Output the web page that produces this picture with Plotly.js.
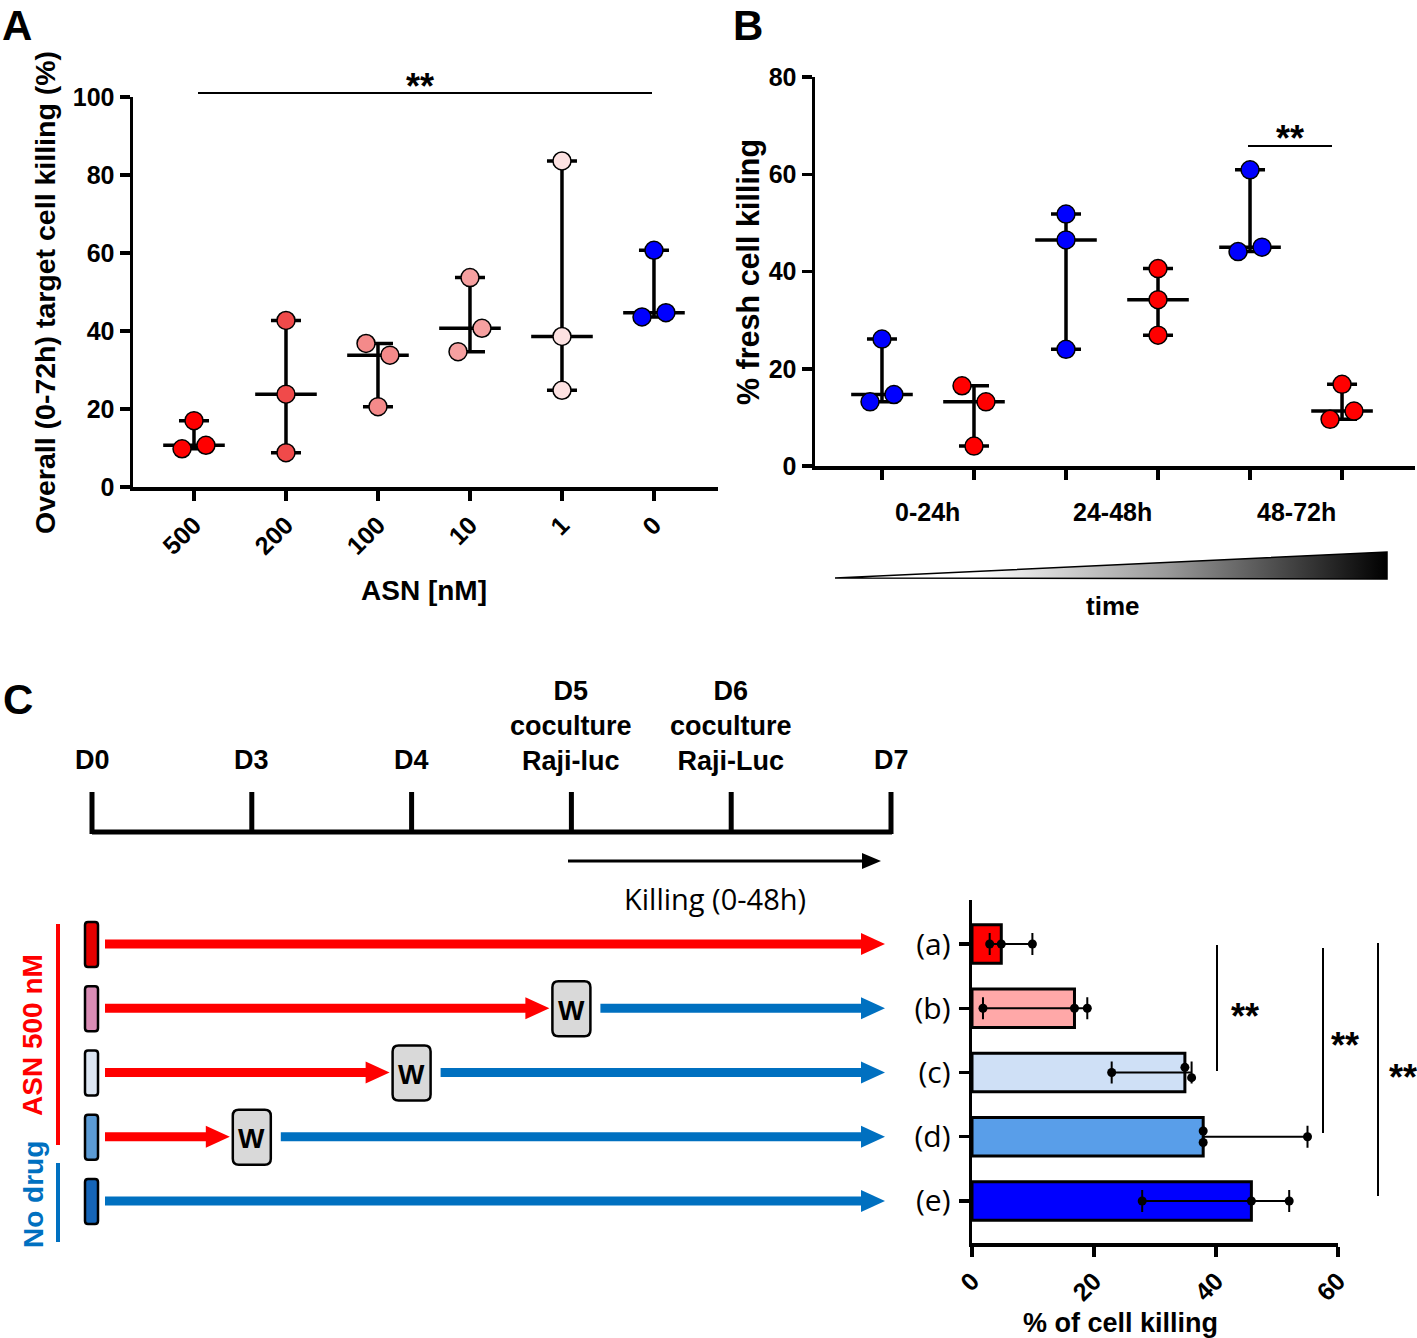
<!DOCTYPE html>
<html>
<head>
<meta charset="utf-8">
<script src="https://cdn.plot.ly/plotly-3.0.1.min.js"></script>
<style>html,body{margin:0;padding:0;background:#fff;}</style>
</head>
<body>
<div id="chart" style="width:1417px;height:1338px;"></div>
<script>
// ---------------- DATA ----------------
// Panel A: overall (0-72h) target cell killing (%) vs ASN concentration
const asnLabels = ['500', '200', '100', '10', '1', '0'];
const killA500 = [17.0, 9.8, 10.7];
const killA200 = [42.7, 23.8, 8.8];
const killA100 = [36.8, 33.8, 20.6];
const killA10  = [53.7, 40.7, 34.7];
const killA1   = [83.6, 38.6, 24.8];
const killA0   = [60.7, 43.6, 44.7];

// Panel B: % fresh cell killing per time window
const timeWindows = ['0-24h', '24-48h', '48-72h'];
const freshNoDrug = [[26.1, 13.2, 14.7], [51.8, 46.5, 24.0], [60.9, 44.1, 45.0]];
const freshASN    = [[16.5, 13.2, 4.1], [40.6, 34.2, 26.9], [16.8, 9.6, 11.3]];

// Panel C: schedule + % of cell killing
const dayLabels = ['D0', 'D3', 'D4', 'D5<br>coculture<br>Raji-luc', 'D6<br>coculture<br>Raji-Luc', 'D7'];
const conditions = ['(a)', '(b)', '(c)', '(d)', '(e)'];
const washDayIndex = [null, 3, 2, 1, null];   // index into dayLabels where wash (W) happens
const cellKilling = [[2.9, 4.8, 9.9], [1.8, 16.8, 18.9], [22.9, 34.9, 36.0], [37.9, 37.9, 55.0], [27.9, 45.8, 52.0]];

// ---------------- STYLE ----------------
const W = 1417, H = 1338;
const FB = 'Liberation Sans, Arial, Helvetica, sans-serif';
const FC = 'Open Sans, Noto Sans, sans-serif';
const asnColors = ['#ff0000', '#f04a4a', '#f48a8a', '#f6a0a0', '#fde2e2', '#0000ff'];
const jitterA = [[0, -0.13, 0.13], [0, 0, 0], [-0.13, 0.13, 0], [0, 0.13, -0.13], [0, 0, 0], [0, -0.13, 0.13]];
const jitterNoDrug = [[0, -0.13, 0.13], [0, 0, 0], [0, -0.13, 0.13]];
const jitterASN = [[-0.13, 0.13, 0], [0, 0, 0], [0, -0.13, 0.13]];
const barColors = ['#ff0000', '#ffa8a8', '#cfe0f6', '#599ee9', '#0000ff'];
const tubeColors = ['#e60000', '#d98cb5', '#dde6f3', '#5b9bd5', '#1565b8'];
const jitterC = [[0, 0, 0], [0, 0, 0], [0, -0.08, 0.08], [-0.09, 0.09, 0], [0, 0, 0]];
const RED = '#ff0000', BLUE = '#0070c0';

function median(a) { const s = [...a].sort((p, q) => p - q); return s[Math.floor(s.length / 2)]; }
function dx(a, b) { return [a / W, b / W]; }
function dy(top, bot) { return [1 - bot / H, 1 - top / H]; }

const traces = [];
const hid = {hoverinfo: 'skip', showlegend: false};

function rangeDots(pos, vals, jit, color, xa, ya) {
  const med = median(vals), mn = Math.min(...vals), mx = Math.max(...vals);
  traces.push(Object.assign({type: 'scatter', mode: 'markers', x: [pos], y: [med], xaxis: xa, yaxis: ya,
    marker: {size: 1, color: 'rgba(0,0,0,0)'},
    error_y: {type: 'data', symmetric: false, array: [mx - med], arrayminus: [med - mn], color: 'black', thickness: 3.5, width: 15}}, hid));
  traces.push(Object.assign({type: 'scatter', mode: 'markers', x: [pos], y: [med], xaxis: xa, yaxis: ya,
    marker: {symbol: 'line-ew', size: 44, color: 'black', line: {width: 3.5, color: 'black'}}}, hid));
  traces.push(Object.assign({type: 'scatter', mode: 'markers', x: vals.map((v, j) => pos + jit[j]), y: vals, xaxis: xa, yaxis: ya,
    marker: {size: 18, color: color, line: {width: 1.5, color: 'black'}}}, hid));
}

// Panel A
[killA500, killA200, killA100, killA10, killA1, killA0].forEach((vals, i) => rangeDots(i, vals, jitterA[i], asnColors[i], 'x', 'y'));
// Panel B
timeWindows.forEach((t, k) => {
  rangeDots(2 * k, freshNoDrug[k], jitterNoDrug[k], '#0000ff', 'x2', 'y2');
  rangeDots(2 * k + 1, freshASN[k], jitterASN[k], '#ff0000', 'x2', 'y2');
});

// Panel C bars
const medC = cellKilling.map(median);
traces.push(Object.assign({type: 'bar', orientation: 'h', x: medC, y: conditions.map((c, i) => i), width: 0.6,
  xaxis: 'x3', yaxis: 'y3', marker: {color: barColors, line: {color: 'black', width: 3}}}, hid));
cellKilling.forEach((vals, i) => {
  const med = medC[i], mn = Math.min(...vals), mx = Math.max(...vals);
  traces.push(Object.assign({type: 'scatter', mode: 'markers', x: [med], y: [i], xaxis: 'x3', yaxis: 'y3',
    marker: {size: 1, color: 'rgba(0,0,0,0)'},
    error_x: {type: 'data', symmetric: false, array: [mx - med], arrayminus: [med - mn], color: 'black', thickness: 2, width: 11}}, hid));
  traces.push(Object.assign({type: 'scatter', mode: 'markers', x: vals, y: vals.map((v, j) => i + jitterC[i][j]), xaxis: 'x3', yaxis: 'y3',
    marker: {size: 9, color: 'black'}}, hid));
});

// time gradient triangle (pixel axes x4/y4)
traces.push(Object.assign({type: 'scatter', mode: 'lines', x: [835, 1387, 1387, 835], y: [578, 552, 579, 578],
  xaxis: 'x4', yaxis: 'y4', fill: 'toself', line: {color: 'black', width: 1.5},
  fillgradient: {type: 'horizontal', colorscale: [[0, '#ffffff'], [0.25, '#ffffff'], [0.6, '#9a9a9a'], [1, '#000000']]}}, hid));

// ---------------- SHAPES / ANNOTATIONS ----------------
const shapes = [], ann = [];
function L(x0, y0, x1, y1, color, w) { shapes.push({type: 'line', xref: 'x4', yref: 'y4', x0, y0, x1, y1, line: {color, width: w}}); }
function P(path, fill, lc, lw) { shapes.push({type: 'path', xref: 'x4', yref: 'y4', path, fillcolor: fill, line: {color: lc || fill, width: lw || 0}}); }
function rr(x0, y0, x1, y1, r) {
  return `M${x0 + r},${y0} L${x1 - r},${y0} Q${x1},${y0} ${x1},${y0 + r} L${x1},${y1 - r} Q${x1},${y1} ${x1 - r},${y1} L${x0 + r},${y1} Q${x0},${y1} ${x0},${y1 - r} L${x0},${y0 + r} Q${x0},${y0} ${x0 + r},${y0} Z`;
}
function T(x, y, text, size, opt) {
  ann.push(Object.assign({xref: 'x4', yref: 'y4', x, y, text, showarrow: false, xanchor: 'center', yanchor: 'middle',
    font: {family: FB, size, color: 'black'}}, opt || {}));
}
function arrow(x0, tip, y, color) {
  L(x0, y, tip - 20, y, color, 9);
  P(`M${tip - 24},${y - 11} L${tip},${y} L${tip - 24},${y + 11} Z`, color);
}

// panel letters
T(17, 25, '<b>A</b>', 42); T(748, 25, '<b>B</b>', 42); T(18, 699, '<b>C</b>', 42);

// Panel A text
T(45, 293, '<b>Overall (0-72h) target cell killing (%)</b>', 28.5, {textangle: -90});
T(424, 590, '<b>ASN [nM]</b>', 28);
L(198, 93, 652, 93, 'black', 2);
T(420, 86, '<b>**</b>', 36);

// Panel B text
T(748, 272, '<b>% fresh cell killing</b>', 30.5, {textangle: -90});
timeWindows.forEach((t, k) => ann.push({xref: 'x2', yref: 'y4', x: 2 * k + 0.5, y: 512, text: '<b>' + t + '</b>', showarrow: false,
  font: {family: FB, size: 25, color: 'black'}}));
L(1248, 146, 1332, 146, 'black', 2);
T(1290, 138, '<b>**</b>', 36);
T(1112, 606, '<b>time</b>', 26);

// Panel C timeline
const dayX = i => 92 + i * 159.8;
L(92, 832, 892, 832, 'black', 5);
dayLabels.forEach((d, i) => {
  L(dayX(i), 792, dayX(i), 834, 'black', 5);
  const multi = d.indexOf('<br>') >= 0;
  T(dayX(i), multi ? 726 : 760, '<b>' + d + '</b>', 27);
});
L(568, 861, 866, 861, 'black', 3);
P('M862,853 L881,861 L862,869 Z', 'black');
T(715, 898, 'Killing (0-48h)', 29, {font: {family: FC, size: 29, color: 'black'}});

// rows
const rowY = i => 944 + i * 64.25;
conditions.forEach((c, i) => {
  const y = rowY(i);
  P(rr(85, y - 22, 98, y + 23, 3), tubeColors[i], 'black', 2.5);
  const wi = washDayIndex[i];
  if (i === conditions.length - 1) {
    arrow(105, 885, y, BLUE);
  } else if (wi === null) {
    arrow(105, 885, y, RED);
  } else {
    const cx = dayX(wi);
    arrow(105, cx - 22, y, RED);
    arrow(cx + 29, 885, y, BLUE);
    P(rr(cx - 19, y - 27, cx + 19, y + 28, 6), '#d9d9d9', 'black', 2.5);
    T(cx, y + 2, '<b>W</b>', 28);
  }
});
L(58, 924, 58, 1145, RED, 4);
L(58, 1163, 58, 1242, BLUE, 4);
T(32, 1035, '<b>ASN 500 nM</b>', 28, {textangle: -90, font: {family: FB, size: 28, color: RED}});
T(33, 1195, '<b>No drug</b>', 28, {textangle: -90, font: {family: FB, size: 28, color: BLUE}});

// significance in C
L(1217, 945, 1217, 1071, 'black', 2); T(1245, 1016, '<b>**</b>', 36);
L(1323, 948, 1323, 1133, 'black', 2); T(1345, 1045, '<b>**</b>', 36);
L(1378, 943, 1378, 1196, 'black', 2); T(1403, 1077, '<b>**</b>', 36);
T(1120, 1323, '<b>% of cell killing</b>', 27);

// ---------------- LAYOUT ----------------
const tickB = {family: FB, size: 25, color: 'black', weight: 700};
const axBase = {showline: true, linecolor: 'black', linewidth: 3.5, ticks: 'outside', ticklen: 10, tickwidth: 3.5,
  tickcolor: 'black', showgrid: false, zeroline: false, tickfont: tickB, fixedrange: true};

const layout = {
  width: W, height: H, margin: {l: 0, r: 0, t: 0, b: 0},
  paper_bgcolor: 'white', plot_bgcolor: 'rgba(0,0,0,0)', showlegend: false,
  xaxis: Object.assign({}, axBase, {domain: dx(133, 718), anchor: 'y', range: [-0.663, 5.696],
    tickmode: 'array', tickvals: asnLabels.map((a, i) => i), ticktext: asnLabels, tickangle: -45}),
  yaxis: Object.assign({}, axBase, {domain: dy(97, 487), anchor: 'x', range: [0, 100], dtick: 20}),
  xaxis2: Object.assign({}, axBase, {domain: dx(815, 1415), anchor: 'y2', range: [-0.728, 5.793],
    tickmode: 'array', tickvals: [0, 1, 2, 3, 4, 5], ticktext: ['', '', '', '', '', '']}),
  yaxis2: Object.assign({}, axBase, {domain: dy(77, 466), anchor: 'x2', range: [0, 80], dtick: 20}),
  xaxis3: Object.assign({}, axBase, {domain: dx(972, 1338), anchor: 'y3', range: [0, 60], dtick: 20, tickangle: -45}),
  yaxis3: Object.assign({}, axBase, {domain: dy(900, 1243), anchor: 'x3', range: [4.654, -0.685],
    tickmode: 'array', tickvals: conditions.map((c, i) => i), ticktext: conditions, ticklabelstandoff: 2,
    tickfont: {family: FC, size: 30, color: 'black'}}),
  xaxis4: {domain: [0, 1], anchor: 'y4', range: [0, W], visible: false, fixedrange: true},
  yaxis4: {domain: [0, 1], anchor: 'x4', range: [H, 0], visible: false, fixedrange: true},
  shapes: shapes, annotations: ann
};

Plotly.newPlot('chart', traces, layout, {displayModeBar: false, staticPlot: true});
</script>
</body>
</html>
